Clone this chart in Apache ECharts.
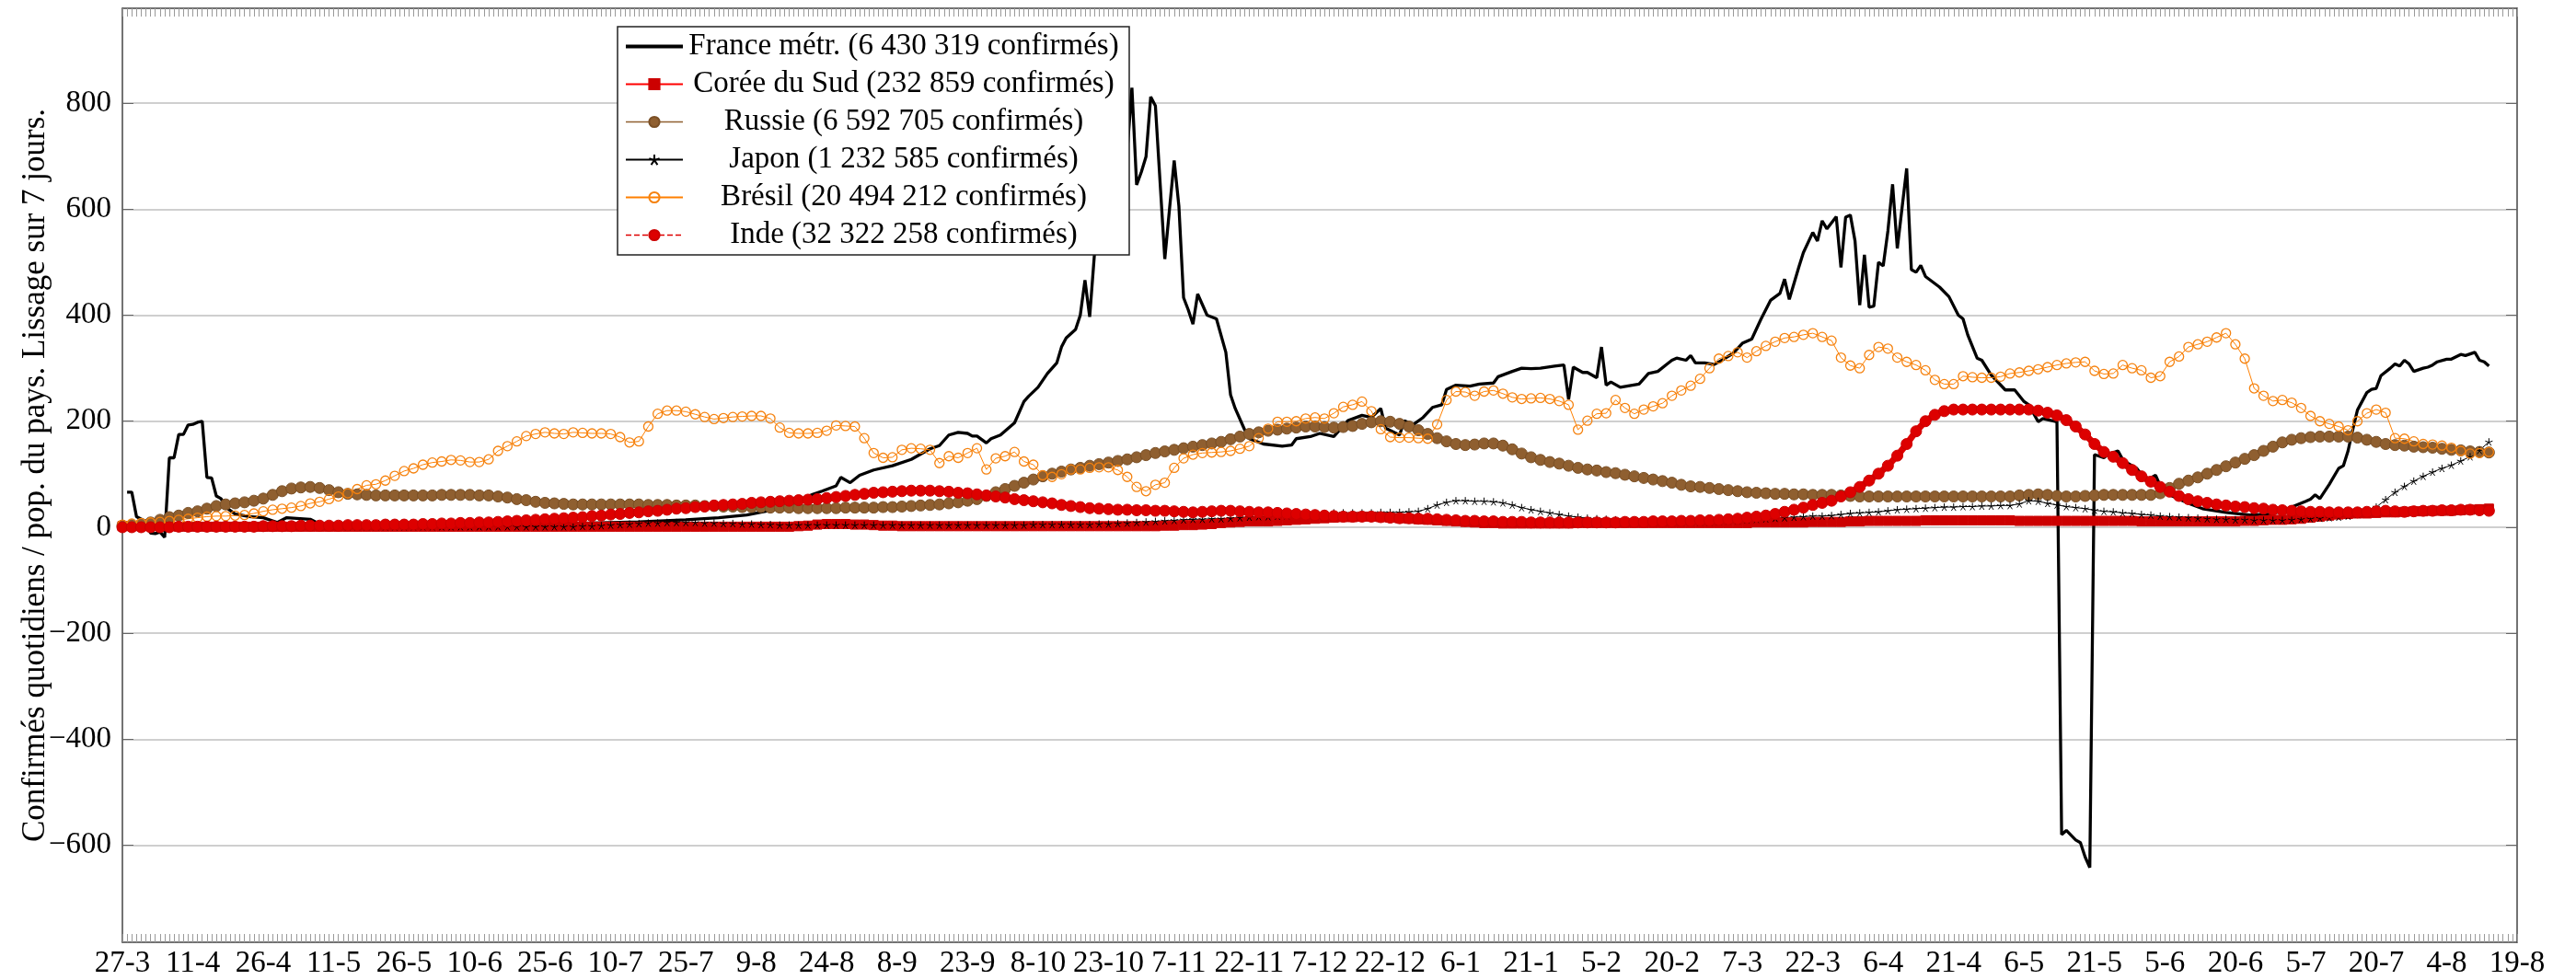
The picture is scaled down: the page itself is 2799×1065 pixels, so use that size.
<!DOCTYPE html>
<html>
<head>
<meta charset="utf-8">
<script src="https://cdn.jsdelivr.net/npm/echarts@6/dist/echarts.min.js"></script>
<style>
  html, body { margin: 0; padding: 0; background: #fff; }
  #chart { width: 2799px; height: 1065px; }
</style>
</head>
<body>
<div id="chart"></div>
<script>
// axe des x : un point par jour depuis le 27-3, une étiquette tous les 15 jours
const tickLabels = ['27-3', '11-4', '26-4', '11-5', '26-5', '10-6', '25-6', '10-7', '25-7', '9-8',
  '24-8', '8-9', '23-9', '8-10', '23-10', '7-11', '22-11', '7-12', '22-12', '6-1',
  '21-1', '5-2', '20-2', '7-3', '22-3', '6-4', '21-4', '6-5', '21-5', '5-6',
  '20-6', '5-7', '20-7', '4-8', '19-8'];
const yTicks = [-600, -400, -200, 0, 200, 400, 600, 800];

const nomFrance = 'France métr. (6 430 319 confirmés)';
const nomCoree = 'Corée du Sud (232 859 confirmés)';
const nomRussie = 'Russie (6 592 705 confirmés)';
const nomJapon = 'Japon (1 232 585 confirmés)';
const nomBresil = 'Brésil (20 494 212 confirmés)';
const nomInde = 'Inde (32 322 258 confirmés)';

const franceJours = [1, 2, 3, 5, 6, 7, 8, 9, 10, 11, 12, 13, 14, 15, 16, 17, 18, 19, 20, 21,
  22, 24, 27, 30, 33, 35, 40, 42, 50, 60, 70, 80, 90, 100, 110, 120, 127, 133, 137, 141,
  144, 147, 149, 152, 153, 155, 157, 160, 164, 168, 170, 172, 174, 176, 178, 180, 181, 182, 184, 185,
  187, 190, 192, 193, 195, 197, 199, 200, 201, 203, 204, 205, 206, 207, 208, 209, 210, 211, 212, 213,
  214, 215, 216, 217, 218, 219, 220, 221, 222, 223, 224, 225, 226, 227, 228, 229, 230, 231, 233, 235,
  236, 237, 239, 240, 243, 247, 249, 250, 253, 255, 258, 261, 264, 266, 268, 269, 272, 273, 275, 277,
  279, 281, 282, 284, 287, 289, 292, 293, 296, 298, 300, 302, 305, 307, 308, 309, 311, 312, 314, 315,
  316, 317, 319, 321, 323, 324, 325, 327, 329, 330, 331, 333, 334, 335, 337, 339, 341, 343, 345, 347,
  349, 351, 353, 354, 355, 357, 358, 360, 361, 362, 363, 365, 366, 367, 368, 369, 370, 371, 372, 373,
  374, 375, 376, 377, 378, 380, 381, 382, 383, 384, 387, 389, 391, 392, 393, 395, 396, 398, 401, 403,
  405, 406, 408, 409, 412, 413, 414, 416, 417, 418, 419, 420, 422, 423, 425, 426, 427, 429, 431, 433,
  434, 436, 440, 443, 448, 453, 458, 462, 465, 466, 467, 468, 470, 472, 473, 474, 475, 476, 478, 479,
  480, 481, 483, 484, 485, 486, 487, 488, 490, 491, 492, 493, 495, 496, 498, 499, 501, 502, 503, 504];
const franceVals = [66, 66, 20, 11, -11, -12, -9, -19, 131, 131, 175, 175, 193, 194, 198, 200, 94, 93, 59, 54,
  38, 25, 20, 18, 9, 18, 15, 6, 5, 4, 4, 5, 6, 8, 10, 14, 18, 23, 30, 40,
  50, 62, 68, 78, 94, 84, 98, 108, 116, 128, 138, 148, 154, 174, 179, 177, 172, 172, 159, 167,
  174, 197, 237, 247, 264, 290, 310, 340, 357, 373, 400, 466, 397, 513, 540, 580, 610, 650, 680, 660,
  710, 829, 646, 670, 699, 812, 795, 650, 506, 600, 692, 606, 433, 410, 383, 440, 420, 400, 393, 330,
  250, 224, 184, 167, 157, 153, 155, 167, 171, 177, 171, 201, 211, 207, 224, 187, 174, 201, 194, 207,
  226, 231, 260, 268, 266, 270, 272, 284, 294, 300, 299, 300, 304, 306, 241, 302, 292, 292, 282, 340,
  268, 274, 264, 267, 270, 280, 290, 294, 308, 315, 319, 315, 324, 310, 310, 307, 317, 328, 347, 355,
  393, 428, 441, 468, 430, 490, 518, 556, 540, 578, 563, 586, 490, 585, 589, 540, 419, 514, 415, 417,
  500, 493, 559, 647, 526, 677, 486, 481, 494, 473, 453, 435, 400, 393, 363, 319, 315, 287, 259, 259,
  237, 231, 199, 205, 199, -580, -572, -590, -595, -622, -642, 137, 131, 138, 144, 128, 121, 111, 88, 98,
  78, 61, 45, 35, 28, 23, 25, 38, 49, 53, 61, 54, 81, 111, 116, 144, 184, 221, 254, 260,
  262, 286, 300, 308, 304, 315, 308, 294, 300, 302, 306, 312, 317, 317, 326, 324, 330, 315, 312, 304];

// autres pays : une valeur tous les 2 jours, du 27-3 (jour 0) au jour 504
const pas = 2;
const coree = [2, 2, 2, 2, 2, 2, 1, 1, 1, 1,
  1, 1, 1, 1, 1, 1, 1, 1, 1, 1,
  1, 1, 1, 1, 1, 1, 1, 1, 1, 1,
  1, 1, 1, 1, 1, 1, 1, 1, 1, 1,
  1, 1, 1, 1, 1, 1, 1, 1, 1, 1,
  1, 1, 1, 1, 1, 1, 1, 1, 1, 1,
  1, 1, 1, 1, 1, 1, 1, 1, 1, 1,
  1, 1, 2, 3, 5, 6, 6, 6, 5, 5,
  4, 3, 3, 2, 2, 2, 2, 2, 2, 2,
  2, 2, 2, 2, 2, 2, 2, 2, 2, 2,
  2, 2, 2, 2, 2, 2, 2, 2, 2, 2,
  2, 3, 3, 4, 4, 5, 6, 8, 9, 10,
  11, 11, 11, 12, 13, 14, 15, 16, 17, 18,
  19, 19, 20, 20, 19, 18, 17, 16, 15, 14,
  13, 12, 11, 10, 9, 8, 8, 7, 7, 7,
  7, 7, 7, 7, 7, 8, 8, 8, 8, 8,
  8, 8, 8, 8, 8, 8, 8, 8, 8, 8,
  8, 8, 8, 8, 9, 9, 9, 9, 9, 9,
  10, 10, 10, 10, 11, 11, 12, 12, 12, 12,
  12, 12, 13, 13, 13, 13, 13, 13, 13, 13,
  13, 13, 12, 12, 12, 12, 12, 12, 12, 12,
  12, 12, 12, 12, 12, 11, 11, 11, 11, 11,
  11, 11, 11, 11, 11, 11, 12, 12, 13, 14,
  14, 15, 16, 18, 20, 22, 24, 25, 26, 26,
  27, 28, 28, 29, 30, 30, 31, 31, 31, 32,
  33, 34, 35];
const russie = [3, 4, 6, 9, 14, 19, 22, 27, 30, 35,
  40, 43, 45, 47, 50, 54, 61, 68, 73, 75,
  76, 74, 70, 66, 63, 62, 61, 60, 60, 60,
  60, 60, 60, 60, 61, 61, 61, 61, 60, 60,
  58, 56, 53, 51, 48, 46, 45, 44, 43, 43,
  43, 43, 43, 43, 43, 43, 42, 42, 42, 41,
  41, 41, 40, 40, 39, 39, 38, 38, 38, 37,
  37, 37, 36, 36, 36, 36, 36, 37, 37, 37,
  37, 38, 38, 39, 40, 41, 42, 43, 45, 47,
  50, 53, 59, 66, 72, 78, 84, 90, 96, 101,
  105, 109, 112, 116, 119, 122, 125, 128, 132, 136,
  140, 143, 146, 149, 152, 155, 158, 161, 166, 171,
  176, 179, 182, 184, 186, 188, 190, 190, 189, 188,
  189, 191, 195, 198, 200, 199, 195, 190, 183, 176,
  168, 162, 157, 155, 156, 158, 158, 154, 147, 139,
  132, 127, 123, 120, 116, 112, 109, 107, 104, 102,
  99, 96, 93, 90, 87, 84, 80, 77, 76, 74,
  72, 70, 68, 66, 65, 64, 63, 63, 62, 62,
  61, 61, 61, 60, 59, 58, 58, 58, 58, 58,
  58, 58, 58, 58, 58, 58, 58, 58, 58, 58,
  58, 58, 60, 61, 62, 61, 59, 58, 58, 59,
  60, 61, 61, 61, 61, 61, 61, 64, 74, 82,
  88, 94, 101, 108, 115, 122, 129, 136, 144, 152,
  160, 165, 168, 170, 171, 171, 171, 171, 169, 165,
  161, 157, 155, 154, 152, 151, 150, 148, 146, 145,
  143, 142, 141];
const japon = [0, 0, 1, 1, 1, 2, 2, 3, 3, 4,
  4, 4, 4, 3, 3, 3, 2, 2, 2, 1,
  1, 1, 1, 1, 1, 1, 1, 1, 1, 1,
  1, 1, 1, 1, 1, 1, 1, 1, 1, 1,
  1, 1, 1, 1, 1, 1, 1, 1, 1, 2,
  2, 3, 4, 5, 6, 7, 8, 8, 9, 9,
  9, 9, 8, 8, 7, 7, 6, 6, 5, 5,
  4, 4, 4, 4, 4, 4, 4, 4, 4, 4,
  4, 4, 4, 4, 4, 4, 4, 4, 4, 4,
  4, 4, 4, 4, 4, 4, 4, 5, 5, 5,
  5, 5, 5, 5, 6, 6, 7, 8, 9, 10,
  11, 12, 13, 14, 15, 15, 16, 16, 17, 18,
  19, 20, 20, 21, 22, 23, 24, 25, 26, 27,
  27, 27, 27, 27, 28, 28, 28, 29, 30, 35,
  42, 47, 50, 50, 49, 49, 48, 46, 42, 37,
  33, 30, 27, 24, 21, 19, 17, 16, 15, 14,
  13, 13, 12, 11, 11, 10, 10, 10, 10, 10,
  11, 12, 13, 14, 15, 16, 17, 18, 19, 20,
  21, 21, 22, 24, 26, 27, 28, 29, 31, 33,
  34, 35, 36, 37, 38, 38, 39, 39, 40, 40,
  41, 41, 44, 50, 49, 45, 42, 39, 37, 35,
  32, 30, 29, 27, 26, 24, 23, 21, 20, 19,
  18, 17, 16, 15, 15, 14, 14, 13, 13, 13,
  13, 14, 15, 16, 17, 18, 19, 21, 24, 28,
  38, 52, 66, 77, 87, 96, 104, 111, 117, 125,
  133, 145, 161];
const bresil = [5, 7, 8, 9, 10, 12, 14, 16, 18, 20,
  21, 21, 22, 23, 26, 30, 33, 35, 37, 40,
  45, 48, 53, 58, 64, 72, 79, 81, 88, 97,
  106, 111, 118, 122, 124, 127, 126, 123, 123, 128,
  144, 153, 162, 172, 176, 179, 177, 176, 179, 178,
  177, 177, 176, 170, 160, 162, 190, 214, 220, 220,
  218, 213, 208, 204, 206, 208, 209, 210, 210, 205,
  188, 178, 177, 177, 178, 182, 192, 191, 190, 168,
  140, 131, 132, 146, 149, 148, 146, 121, 134, 131,
  140, 149, 109, 130, 134, 142, 124, 118, 98, 95,
  100, 109, 109, 112, 113, 113, 108, 95, 76, 68,
  80, 84, 112, 130, 137, 140, 141, 142, 144, 148,
  153, 168, 186, 199, 199, 200, 205, 207, 205, 215,
  227, 231, 237, 219, 185, 170, 169, 169, 168, 167,
  194, 240, 256, 255, 248, 256, 258, 252, 245, 242,
  243, 244, 242, 238, 231, 184, 201, 214, 215, 240,
  225, 214, 222, 228, 234, 248, 258, 267, 280, 300,
  318, 323, 330, 320, 332, 342, 350, 357, 359, 363,
  366, 359, 352, 320, 305, 300, 325, 340, 337, 320,
  312, 306, 296, 278, 270, 270, 285, 283, 282, 282,
  284, 290, 292, 295, 298, 302, 306, 309, 311, 312,
  295, 289, 290, 306, 300, 296, 282, 285, 312, 322,
  340, 345, 350, 358, 366, 345, 318, 262, 248, 238,
  240, 235, 225, 210, 200, 195, 190, 183, 200, 215,
  222, 216, 168, 167, 162, 157, 156, 154, 150, 144,
  139, 140, 142];
const inde = [0, 0, 0, 0, 0, 0, 1, 1, 1, 1,
  1, 1, 1, 1, 1, 2, 2, 2, 2, 3,
  3, 3, 3, 3, 4, 4, 4, 4, 5, 5,
  5, 5, 6, 6, 7, 7, 8, 8, 9, 9,
  10, 11, 12, 13, 14, 15, 16, 17, 18, 19,
  21, 22, 24, 25, 27, 28, 30, 31, 33, 35,
  36, 38, 39, 41, 42, 43, 44, 46, 47, 48,
  49, 50, 51, 52, 53, 55, 57, 59, 61, 63,
  65, 66, 67, 68, 69, 69, 69, 68, 67, 65,
  64, 62, 60, 58, 56, 53, 51, 49, 47, 45,
  42, 40, 38, 36, 35, 34, 33, 33, 32, 32,
  31, 31, 30, 29, 28, 29, 30, 31, 31, 30,
  29, 28, 28, 27, 26, 25, 24, 23, 22, 21,
  20, 20, 20, 20, 19, 18, 17, 17, 16, 16,
  15, 14, 13, 12, 12, 11, 11, 10, 10, 10,
  9, 9, 9, 9, 9, 9, 9, 9, 9, 9,
  10, 10, 10, 11, 11, 11, 12, 12, 13, 13,
  14, 15, 16, 18, 20, 22, 25, 29, 33, 37,
  42, 46, 50, 58, 66, 76, 88, 101, 116, 135,
  157, 181, 200, 212, 219, 222, 222, 222, 222, 222,
  222, 222, 222, 222, 220, 216, 211, 202, 190, 175,
  157, 142, 133, 121, 108, 96, 86, 76, 67, 59,
  53, 49, 46, 43, 41, 39, 38, 36, 35, 33,
  32, 31, 30, 29, 29, 28, 28, 28, 28, 29,
  30, 31, 30, 29, 30, 31, 31, 32, 32, 33,
  33, 32, 31];

const serif = '"Liberation Serif", "DejaVu Serif", serif';
const taille = 33;
const parPas = arr => arr.map((v, i) => [i * pas, v]);
const etoile = 'path://M0,0L0,-10M0,0L9.51,-3.09M0,0L5.88,8.09M0,0L-5.88,8.09M0,0L-9.51,-3.09';

const chart = echarts.init(document.getElementById('chart'));

const axeX = (position, labels) => ({
  type: 'value',
  position: position,
  min: 0,
  max: 510,
  interval: 1,
  axisLine: { show: true, onZero: false, lineStyle: { color: '#444', width: 1.5 } },
  axisTick: { show: true, inside: true, length: 9, lineStyle: { color: '#9a9a9a', width: 1 } },
  axisLabel: {
    show: labels,
    showMinLabel: true,
    showMaxLabel: true,
    margin: 7,
    color: '#000',
    fontFamily: serif,
    fontSize: taille,
    formatter: v => (v % 15 === 0 ? tickLabels[v / 15] : '')
  },
  splitLine: { show: false }
});

const axeY = (position, labels) => ({
  type: 'value',
  position: position,
  min: -783,
  max: 979,
  axisLine: { show: true, onZero: false, lineStyle: { color: '#444', width: 1.5 } },
  axisTick: { show: true, inside: true, length: 12, customValues: yTicks, lineStyle: { color: '#666' } },
  axisLabel: {
    show: labels,
    customValues: yTicks,
    margin: 12,
    color: '#000',
    fontFamily: serif,
    fontSize: taille,
    formatter: v => (v < 0 ? '\u2212' + Math.abs(v) : String(v))
  },
  splitLine: { show: labels, lineStyle: { color: '#cfcfcf', width: 2 } }
});

const yGauche = axeY('left', true);
yGauche.name = 'Confirmés quotidiens / pop. du pays. Lissage sur 7 jours.';
yGauche.nameLocation = 'middle';
yGauche.nameGap = 77;
yGauche.nameMoveOverlap = false;
yGauche.nameTextStyle = { color: '#000', fontFamily: serif, fontSize: 35 };

const legendeFine = { width: 1.5 };

chart.setOption({
  animation: false,
  backgroundColor: '#fff',
  grid: { left: 133, right: 64, top: 9, bottom: 41, containLabel: false, outerBoundsMode: 'none' },
  xAxis: [axeX('bottom', true), axeX('top', false)],
  yAxis: [yGauche, axeY('right', false)],
  legend: {
    left: 671,
    top: 29,
    orient: 'vertical',
    backgroundColor: '#fff',
    borderColor: '#222',
    borderWidth: 1.5,
    padding: [5, 10, 5, 8],
    itemWidth: 62,
    itemHeight: 14,
    itemGap: 8,
    data: [
      { name: nomFrance, icon: 'path://M0,0L62,0L62,4L0,4Z', itemStyle: { color: '#000' } },
      { name: nomCoree },
      { name: nomRussie, lineStyle: legendeFine },
      { name: nomJapon },
      { name: nomBresil },
      { name: nomInde, lineStyle: { width: 1.5, type: 'dashed' } }
    ],
    formatter: n => '{t|' + n + '}',
    textStyle: {
      color: '#000',
      fontFamily: serif,
      fontSize: taille,
      rich: { t: { width: 470, align: 'center', fontFamily: serif, fontSize: taille, lineHeight: 35, color: '#000' } }
    }
  },
  series: [
    {
      name: nomFrance, type: 'line', symbol: 'none',
      data: franceJours.map((j, i) => [j, franceVals[i]]),
      lineStyle: { color: '#000', width: 3.3 },
      itemStyle: { color: '#000' }
    },
    {
      name: nomCoree, type: 'line', symbol: 'rect', symbolSize: 10, showAllSymbol: true,
      data: parPas(coree),
      lineStyle: { color: '#ff0000', width: 1 },
      itemStyle: { color: '#cc0000', borderColor: '#cc0000', borderWidth: 1 }
    },
    {
      name: nomRussie, type: 'line', symbol: 'circle', symbolSize: 12, showAllSymbol: true,
      data: parPas(russie),
      lineStyle: { color: '#8f5f30', width: 7 },
      itemStyle: { color: '#8f5f30', borderColor: '#7a4f25', borderWidth: 1 }
    },
    {
      name: nomJapon, type: 'line', symbol: etoile, symbolSize: 8, showAllSymbol: true,
      data: parPas(japon),
      lineStyle: { color: '#000', width: 1 },
      itemStyle: { color: '#000', borderColor: '#000', borderWidth: 1 }
    },
    {
      name: nomBresil, type: 'line', symbol: 'circle', symbolSize: 10, showAllSymbol: true,
      data: parPas(bresil),
      lineStyle: { color: '#ff8000', width: 1 },
      itemStyle: { color: 'rgba(255,255,255,0)', borderColor: '#f5820f', borderWidth: 1.3 }
    },
    {
      name: nomInde, type: 'line', symbol: 'circle', symbolSize: 12, showAllSymbol: true,
      data: parPas(inde),
      lineStyle: { color: '#dd0000', width: 7 },
      itemStyle: { color: '#dd0000', borderColor: '#cc0000', borderWidth: 1 }
    }
  ]
});

window.addEventListener('resize', () => chart.resize());
</script>
</body>
</html>
